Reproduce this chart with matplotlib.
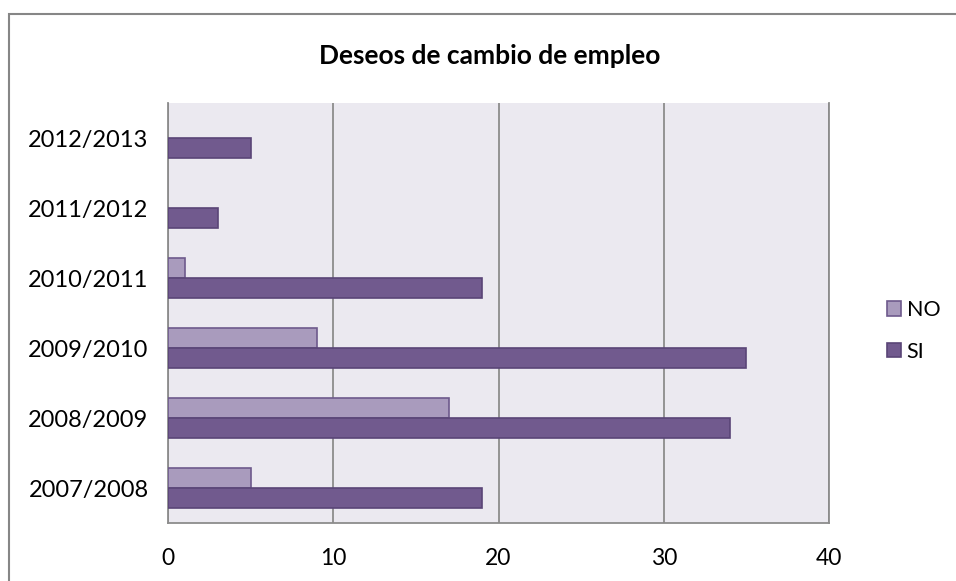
import matplotlib
matplotlib.use("Agg")
import matplotlib.pyplot as plt
from matplotlib.patches import Rectangle
import numpy as np

plt.rcParams['font.family'] = ['Lato', 'DejaVu Sans']

categories = ["2007/2008", "2008/2009", "2009/2010", "2010/2011", "2011/2012", "2012/2013"]
no_vals = [5, 17, 9, 1, 0, 0]
si_vals = [19, 34, 35, 19, 3, 5]
xticks = [0, 10, 20, 30, 40]

W, H = 956, 581
fig = plt.figure(figsize=(W/100, H/100), dpi=100)
fig.patch.set_facecolor('white')

# outer chart frame
fig.add_artist(Rectangle((9/W, -0.1), 1.2, (H-14)/H + 0.1, transform=fig.transFigure,
                         fill=False, edgecolor='#868686', linewidth=1.5))

ax = fig.add_axes([168/W, 1-523/H, (829-168)/W, (523-103)/H])
ax.set_facecolor('#EBE9F0')

y = np.arange(len(categories))
h = 0.29
lw_no = [1.2 if v > 0 else 0 for v in no_vals]
lw_si = [1.2 if v > 0 else 0 for v in si_vals]
ax.barh(y + h/2, no_vals, height=h, color='#A99BBD', edgecolor='#6E5A8C', linewidth=lw_no, label='NO', zorder=3)
ax.barh(y - h/2, si_vals, height=h, color='#715A8E', edgecolor='#5A4577', linewidth=lw_si, label='SI', zorder=3)

ax.set_xlim(0, 40)
ax.set_ylim(-0.5, len(categories) - 0.5)
ax.set_xticks(xticks)
ax.set_xticklabels([str(t) for t in xticks], fontsize=16.5)
ax.set_yticks(y)
ax.set_yticklabels(categories, fontsize=17)
ax.tick_params(axis='x', length=0, pad=18)
ax.tick_params(axis='y', length=0, pad=14)
ax.xaxis.grid(True, color='#8C8C8C', linewidth=1.3, zorder=1)
ax.set_axisbelow(True)
ax.spines['top'].set_visible(False)
for s in ['left', 'bottom', 'right']:
    ax.spines[s].set_color('#8C8C8C')
    ax.spines[s].set_linewidth(1.3)

fig.text(490/W, 1-56/H, "Deseos de cambio de empleo", ha='center', va='center',
         fontsize=19, fontweight='bold')

handles, labels = ax.get_legend_handles_labels()
fig.legend(handles, labels, loc='center left', bbox_to_anchor=(868/W, 1-331/H),
           frameon=False, fontsize=15.5, handlelength=0.65, handleheight=0.65,
           handletextpad=0.25, labelspacing=1.0)

fig.savefig("out.png", dpi=100)
